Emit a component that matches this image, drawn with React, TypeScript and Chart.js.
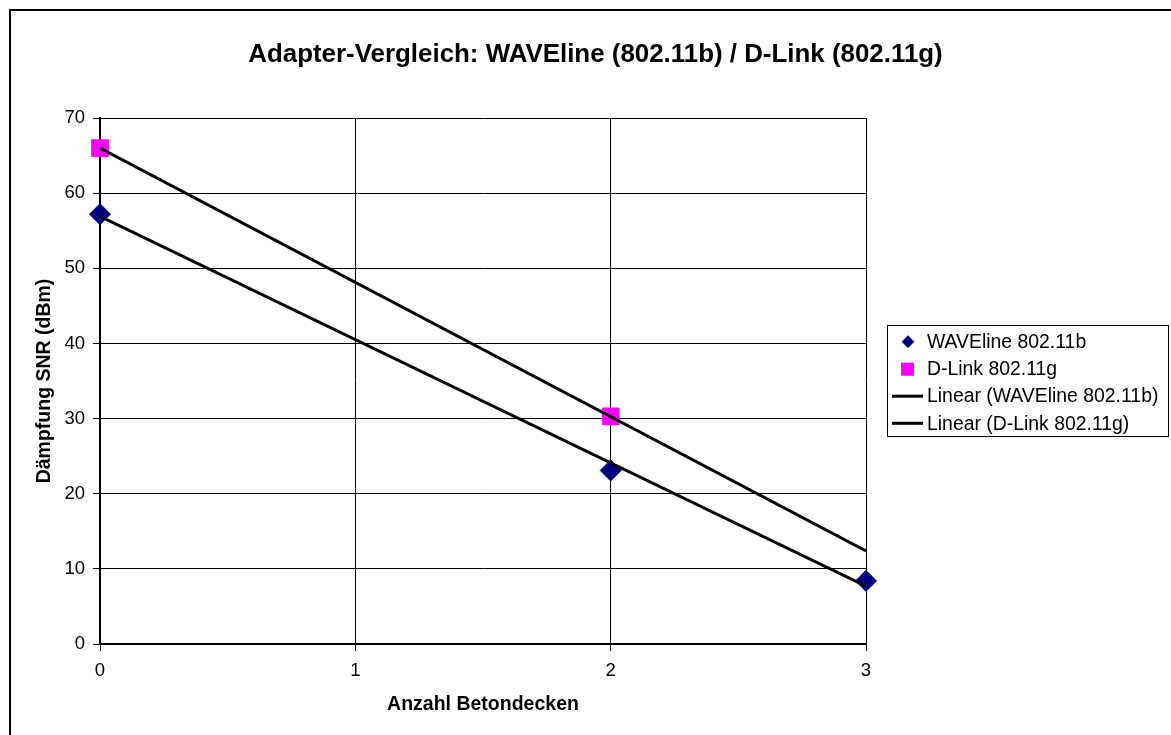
import React, { useEffect, useRef } from "react";
import { Chart, registerables } from "chart.js";

Chart.register(...registerables);

// ---- Data ----
const CHART_TITLE = "Adapter-Vergleich: WAVEline (802.11b) / D-Link (802.11g)";
const X_TITLE = "Anzahl Betondecken";
const Y_TITLE = "Dämpfung SNR (dBm)";
const seriesNames = [
  "WAVEline 802.11b",
  "D-Link 802.11g",
  "Linear (WAVEline 802.11b)",
  "Linear (D-Link 802.11g)",
];
const wavelineX = [0, 2, 3];
const wavelineY = [57.2, 23.1, 8.4];
const dlinkX = [0, 2];
const dlinkY = [66.0, 30.3];
const trendX = [0, 3];
const wavelineTrendY = [56.9, 7.7];
const dlinkTrendY = [66.0, 12.4];
const xRange = [0, 3];
const yRange = [0, 70];
const xStep = 1;
const yStep = 10;

const FONT = '"Liberation Sans", Arial, Helvetica, sans-serif';
const NAVY = "#000080";
const PINK = "#FF00FF";

const toPoints = (xs: number[], ys: number[]) => xs.map((x, i) => ({ x, y: ys[i] }));

const excelPlugin = {
  id: "excelFrame",
  beforeDraw(chart: any) {
    const ctx = chart.ctx;
    ctx.save();
    ctx.fillStyle = "#fff";
    ctx.fillRect(0, 0, chart.width, chart.height);
    ctx.restore();
  },
  afterDraw(chart: any) {
    const ctx = chart.ctx;
    ctx.save();
    // outer chart frame
    ctx.strokeStyle = "#000";
    ctx.lineWidth = 2;
    ctx.beginPath();
    ctx.moveTo(10, chart.height + 5);
    ctx.lineTo(10, 10);
    ctx.lineTo(chart.width + 5, 10);
    ctx.stroke();

    // title
    ctx.fillStyle = "#000";
    ctx.font = `bold 25.9px ${FONT}`;
    ctx.textAlign = "center";
    ctx.textBaseline = "alphabetic";
    ctx.fillText(CHART_TITLE, 595.5, 62);

    // legend
    const bx = 887, by = 325, bw = 281, bh = 111;
    ctx.lineWidth = 1;
    ctx.strokeStyle = "#000";
    ctx.strokeRect(bx + 0.5, by + 0.5, bw, bh);
    const rowCenters = [341.7, 369.2, 396.2, 423.3];
    ctx.font = `19.4px ${FONT}`;
    ctx.textAlign = "left";
    chart.data.datasets.forEach((ds: any, i: number) => {
      const cy = rowCenters[i];
      if (ds.showLine === false) {
        ctx.fillStyle = ds.backgroundColor;
        if (ds.pointStyle === "rectRot") {
          const r = 6.4;
          ctx.beginPath();
          ctx.moveTo(908, cy - r);
          ctx.lineTo(908 + r, cy);
          ctx.lineTo(908, cy + r);
          ctx.lineTo(908 - r, cy);
          ctx.closePath();
          ctx.fill();
        } else {
          ctx.fillRect(901, cy - 6.5, 13, 13);
        }
      } else {
        ctx.strokeStyle = ds.borderColor;
        ctx.lineWidth = ds.borderWidth;
        ctx.beginPath();
        ctx.moveTo(892, cy);
        ctx.lineTo(923, cy);
        ctx.stroke();
      }
      ctx.fillStyle = "#000";
      ctx.textBaseline = "alphabetic";
      ctx.fillText(ds.label, 927, cy + 6.2);
    });
    ctx.restore();
  },
};

export default function App() {
  const canvasRef = useRef<HTMLCanvasElement | null>(null);

  useEffect(() => {
    if (!canvasRef.current) return;
    const chart = new Chart(canvasRef.current, {
      type: "scatter",
      data: {
        datasets: [
          {
            label: seriesNames[0],
            data: toPoints(wavelineX, wavelineY),
            showLine: false,
            pointStyle: "rectRot",
            pointRadius: 10.5,
            pointHoverRadius: 10.5,
            backgroundColor: NAVY,
            borderColor: NAVY,
            borderWidth: 1,
            clip: false,
            order: 2,
          } as any,
          {
            label: seriesNames[1],
            data: toPoints(dlinkX, dlinkY),
            showLine: false,
            pointStyle: "rect",
            pointRadius: 11.8,
            pointHoverRadius: 11.8,
            backgroundColor: PINK,
            borderColor: PINK,
            borderWidth: 1,
            clip: false,
            order: 2,
          } as any,
          {
            label: seriesNames[2],
            data: toPoints(trendX, wavelineTrendY),
            showLine: true,
            borderColor: "#000",
            backgroundColor: "#000",
            borderWidth: 3,
            pointRadius: 0,
            pointHoverRadius: 0,
            fill: false,
            order: 0,
          } as any,
          {
            label: seriesNames[3],
            data: toPoints(trendX, dlinkTrendY),
            showLine: true,
            borderColor: "#000",
            backgroundColor: "#000",
            borderWidth: 3,
            pointRadius: 0,
            pointHoverRadius: 0,
            fill: false,
            order: 0,
          } as any,
        ],
      },
      options: {
        animation: false,
        responsive: false,
        devicePixelRatio: 1,
        layout: { padding: { left: 9, top: 118, right: 305, bottom: 0 } },
        plugins: {
          legend: { display: false },
          title: { display: false },
          tooltip: { enabled: false },
        },
        scales: {
          x: {
            type: "linear",
            min: xRange[0],
            max: xRange[1],
            ticks: {
              stepSize: xStep,
              color: "#000",
              font: { family: FONT, size: 18.5 },
              padding: 9,
              maxRotation: 0,
            },
            grid: { color: "#000", lineWidth: 1, tickLength: 7, tickColor: "#000" },
            border: { color: "#000", width: 2 },
            title: {
              display: true,
              text: X_TITLE,
              color: "#000",
              font: { family: FONT, size: 19.5, weight: "bold" },
              padding: { top: 0, bottom: 19 },
            },
            afterFit(s: any) {
              s.height = 91;
              s.paddingLeft = 0;
              s.paddingRight = 0;
            },
          } as any,
          y: {
            type: "linear",
            min: yRange[0],
            max: yRange[1],
            ticks: {
              stepSize: yStep,
              color: "#000",
              font: { family: FONT, size: 18.5 },
              padding: 8,
            },
            grid: { color: "#000", lineWidth: 1, tickLength: 7, tickColor: "#000" },
            border: { color: "#000", width: 2 },
            title: {
              display: true,
              text: Y_TITLE,
              color: "#000",
              font: { family: FONT, size: 19.5, weight: "bold" },
              padding: { top: 24, bottom: 0 },
            },
            afterFit(s: any) {
              s.width = 91;
              s.paddingTop = 0;
              s.paddingBottom = 0;
            },
          } as any,
        },
      },
      plugins: [excelPlugin],
    });
    return () => chart.destroy();
  }, []);

  return (
    <div style={{ position: "fixed", left: 0, top: 0, width: 1171, height: 735, background: "#fff" }}>
      <canvas ref={canvasRef} width={1171} height={735} style={{ display: "block", width: 1171, height: 735 }} />
    </div>
  );
}
